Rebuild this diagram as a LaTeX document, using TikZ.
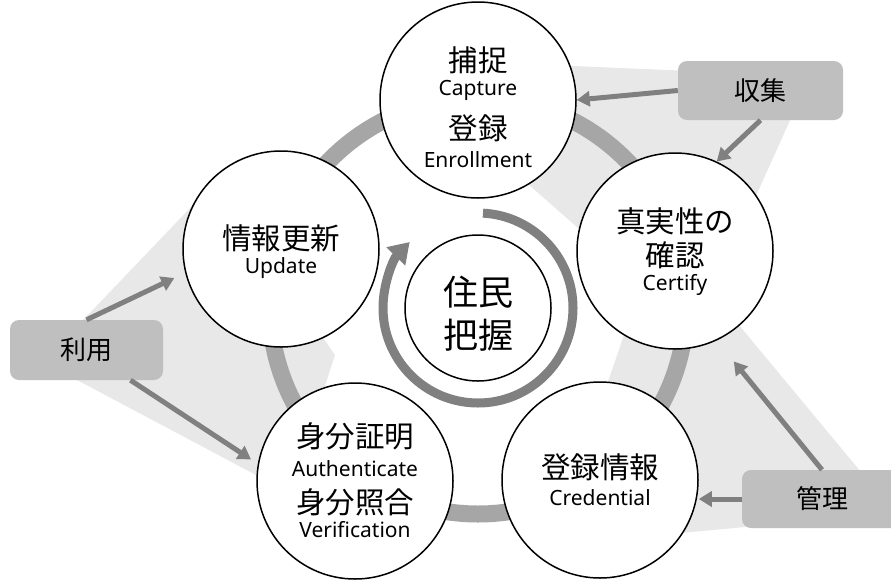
\documentclass[tikz,border=0pt]{standalone}
\usepackage{fontspec}
\setmainfont{Noto Sans CJK JP}
\newfontfamily\latinfont{Noto Sans}
\usetikzlibrary{arrows.meta,calc}
\definecolor{wedgec}{HTML}{E8E8E8}
\definecolor{ringc}{HTML}{A6A6A6}
\definecolor{darkc}{HTML}{808080}
\definecolor{boxc}{HTML}{BFBFBF}
\begin{document}
\begin{tikzpicture}[x=1pt,y=-1pt]
\tikzset{
 circ/.style={circle, draw=black, line width=1.5pt, fill=white, minimum size=196pt, inner sep=0pt},
 jp/.style={font=\fontsize{29.5}{31}\selectfont, inner sep=0pt},
 en/.style={font=\latinfont\fontsize{21}{23}\selectfont, inner sep=0pt},
 bigjp/.style={font=\fontsize{35}{37}\selectfont, inner sep=0pt},
 boxnode/.style={fill=boxc, rounded corners=9pt, inner sep=0pt, font=\fontsize{26}{28}\selectfont},
 arr/.style={draw=darkc, line width=5pt, -{Triangle[width=15pt,length=13pt]}},
 inarr/.style={draw=darkc, line width=9pt, -{Triangle[width=25pt,length=20pt]}},
 wedge/.style={fill=wedgec, draw=none},
}
\useasboundingbox (0,0) rectangle (891,579);
\fill[white] (0,0) rectangle (891,579);
% light wedges
\fill[wedge] (478,62) -- (810,76) -- (695,331) -- (478,140) -- cycle;
\fill[wedge] (660,230) -- (895,513) -- (552,545) -- cycle;
\fill[wedge] (43,362) -- (215,182) -- (335,355) -- (290,493) -- cycle;
% outer ring
\draw[ringc, line width=17pt] (478,306) circle[radius=208pt];
% circles
\node[circ] (c1) at (478,100) {};
\node[circ] (c2) at (675,251) {};
\node[circ] (c3) at (600,480) {};
\node[circ] (c4) at (355,481) {};
\node[circ] (c5) at (281,249) {};
\node[circle, draw=black, line width=1.5pt, fill=white, minimum size=146pt, inner sep=0pt] (c0) at (478,308) {};
% inner cycle arrow
\draw[inarr] ($(c0.center)+(87:95pt)$) arc[start angle=87, end angle=-224, radius=95pt];
% texts
\node[jp] (t1a) at (478,60) {捕捉};
\node[en] (t1b) at (478,90) {Capture};
\node[jp] (t1c) at (478,128) {登録};
\node[en] (t1d) at (478,160) {Enrollment};
\node[jp] (t2a) at (675,221) {真実性の};
\node[jp] (t2b) at (675,255) {確認};
\node[en] (t2c) at (675,285) {Certify};
\node[jp] (t3a) at (600,467) {登録情報};
\node[en] (t3b) at (600,498) {Credential};
\node[jp] (t4a) at (355,436) {身分証明};
\node[en] (t4b) at (355,469) {Authenticate};
\node[jp] (t4c) at (355,502) {身分照合};
\node[en] (t4d) at (355,530) {Verification};
\node[jp] (t5a) at (281,238) {情報更新};
\node[en] (t5b) at (281,268) {Update};
\node[bigjp] (t0a) at (478,292) {住民};
\node[bigjp] (t0b) at (478,335) {把握};
% boxes
\node[boxnode, minimum width=165pt, minimum height=59pt] (b1) at (760.5,90.5) {収集};
\node[boxnode, minimum width=153pt, minimum height=60pt] (b2) at (86.5,350) {利用};
\node[boxnode, minimum width=160pt, minimum height=58pt] (b3) at (822,499) {管理};
% arrows
\draw[arr] (b1.west) -- (c1.east);
\draw[arr] (b1.south) -- (c2.65);
\draw[arr, shorten >=12pt] (b2.north) -- (c5.194);
\draw[arr, shorten >=8pt] ([xshift=44pt]b2.south) -- (c4.170);
\draw[arr, shorten >=27pt] (b3.north) -- (c2.-65);
\draw[arr] (b3.west) -- (b3.west -| c3.east);
\end{tikzpicture}
\end{document}
